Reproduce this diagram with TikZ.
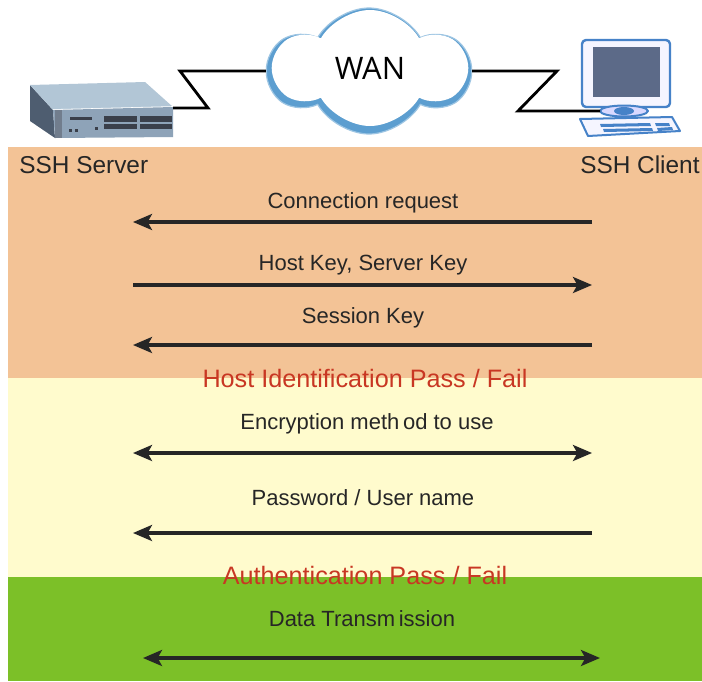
\documentclass[tikz,border=0pt]{standalone}
\usepackage{fontspec}
\setmainfont{Liberation Sans}
\newfontfamily\wanfont{Open Sans}
\usetikzlibrary{arrows.meta,shapes.symbols,positioning}
\definecolor{peach}{RGB}{243,195,150}
\definecolor{cream}{RGB}{255,251,205}
\definecolor{grass}{RGB}{124,192,40}
\definecolor{passfail}{RGB}{200,55,35}
\definecolor{cloudblue}{RGB}{92,158,208}
\definecolor{boxtop}{RGB}{178,198,214}
\definecolor{boxfront}{RGB}{142,163,184}
\definecolor{boxside}{RGB}{78,93,112}
\definecolor{boxport}{RGB}{58,63,74}
\definecolor{pcline}{RGB}{70,130,200}
\definecolor{pcscreen}{RGB}{92,106,136}

\tikzset{
  host/.style={inner sep=0pt, text=black!85, font=\fontsize{12.2}{14}\selectfont},
  lbl/.style={inner sep=0pt, text=black!85, font=\fontsize{11}{13}\selectfont},
  verdict/.style={inner sep=0pt, text=passfail, font=\fontsize{12.6}{15}\selectfont},
  msg/.style={draw=black!85, line width=1.6pt},
  tip/.tip={Stealth[length=9.5pt,width=8pt,inset=2.2pt]},
  wire/.style={draw=black, line width=1.4pt, line join=miter},
  puffs/.style={cloud, cloud puffs=6, cloud puff arc=120, aspect=1.6, inner sep=0pt}
}

\begin{document}
\begin{tikzpicture}[x=0.5pt,y=-0.5pt]
\def\midx{363}

\useasboundingbox (0,0) rectangle (702,681);
\fill[white] (0,0) rectangle (702,681);

% the three phases
\fill[peach] (8,147) rectangle (702,378);
\fill[cream] (8,378) rectangle (702,577);
\fill[grass] (8,577) rectangle (702,681);

% WAN cloud, shaded rim first
\node[puffs, fill=cloudblue, draw=cloudblue!60, line width=0.6pt, minimum width=100pt, minimum height=63pt] (wan) at (369,71) {};
\node[puffs, fill=white, minimum width=95pt, minimum height=58pt] (wanin) at (370,68) {\wanfont\fontsize{15.5}{18}\selectfont WAN};

% server box
\begin{scope}[line join=round]
  \fill[boxside] (30,85) -- (53,110) -- (55,138) -- (30,121) -- cycle;
  \fill[boxtop] (30,85) -- (145,82) -- (173,107) -- (53,110) -- cycle;
  \draw[white, line width=0.8pt] (53,110) -- (173,107);
  \fill[boxfront] (53,110) -- (173,107) -- (173,137) -- (55,138) -- cycle;
  \fill[boxside!80] (55,110) -- (62,110) -- (62,138) -- (55,138) -- cycle;
  \fill[boxport] (70,117) rectangle (92,120);
  \fill[boxport] (69,129) rectangle (72,132);
  \fill[boxport] (75,129) rectangle (78,132);
  \fill[boxport] (95,127) rectangle (98,130);
  \fill[boxport] (104,116) rectangle (137,122);
  \fill[boxport] (104,124) rectangle (137,129);
  \fill[boxport] (140,116) rectangle (172,122);
  \fill[boxport] (140,124) rectangle (172,129);
\end{scope}

% client pc
\begin{scope}[line join=round]
  \filldraw[fill=blue!4, draw=pcline, line width=1.2pt, rounded corners=2pt] (582,40) rectangle (670,107);
  \fill[pcscreen] (593,47) rectangle (660,97);
  \filldraw[fill=blue!4, draw=pcline, line width=1pt] (580,119) -- (672,117) -- (680,131) -- (588,136) -- cycle;
  \fill[pcline] (600,124) -- (650,123) -- (651,126) -- (601,127) -- cycle;
  \fill[pcline] (655,123) -- (669,123) -- (670,126) -- (656,126) -- cycle;
  \fill[pcline] (603,129) -- (652,128) -- (653,131) -- (604,132) -- cycle;
  \fill[pcline] (657,128) -- (672,127) -- (673,130) -- (658,131) -- cycle;
  \filldraw[fill=blue!15, draw=pcline, line width=1pt] (624,111) ellipse (24 and 5.5);
  \fill[pcline] (624,111) ellipse (10 and 4);
\end{scope}

\coordinate (srvport) at (173,108);
\coordinate (cliport) at (600,111);

\draw[wire] (srvport) -- (208,108) -- (180,71) -- (wan.west);
\draw[wire] (wan.east) -- (557,71) -- (518,111) -- (cliport);

\node[host, anchor=west] (srv) at (19,165) {SSH Server};
\node[host, anchor=east] (cli) at (700,165) {SSH Client};

% messages
\node[lbl] (t1) at (\midx,203) {Connection request};
\coordinate (l1) at (133,222);
\coordinate (r1) at (592,222);
\draw[msg, -tip] (r1) -- (l1);

\node[lbl] (t2) at (\midx,265) {Host Key, Server Key};
\coordinate (l2) at (133,285);
\coordinate (r2) at (592,285);
\draw[msg, -tip] (l2) -- (r2);

\node[lbl] (t3) at (\midx,318) {Session Key};
\coordinate (l3) at (133,345);
\coordinate (r3) at (592,345);
\draw[msg, -tip] (r3) -- (l3);

\node[verdict] (v1) at (365,378) {Host Identification Pass / Fail};

\node[lbl] (t4) at (367,424) {Encryption meth\,od to use};
\coordinate (l4) at (133,453);
\coordinate (r4) at (592,453);
\draw[msg, tip-tip] (l4) -- (r4);

\node[lbl] (t5) at (\midx,498) {Password / User name};
\coordinate (l5) at (133,533);
\coordinate (r5) at (592,533);
\draw[msg, -tip] (r5) -- (l5);

\node[verdict] (v2) at (365,575) {Authentication Pass / Fail};

\node[lbl] (t6) at (362,619) {Data Transm\,ission};
\coordinate (l6) at (143,658);
\coordinate (r6) at (600,658);
\draw[msg, tip-tip] (l6) -- (r6);

\end{tikzpicture}
\end{document}
